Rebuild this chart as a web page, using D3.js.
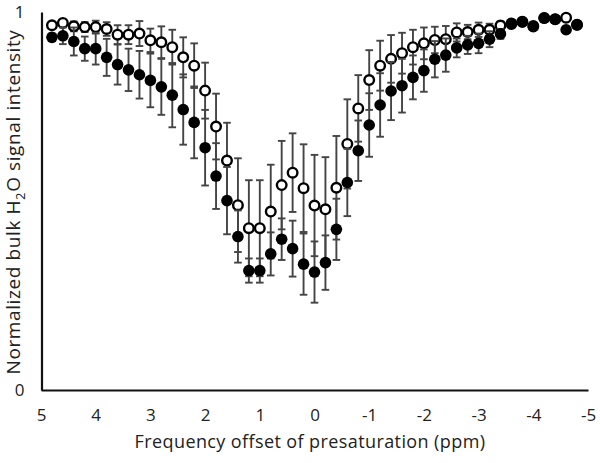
<!DOCTYPE html>
<html>
<head>
<meta charset="utf-8">
<script src="https://cdn.jsdelivr.net/npm/d3@7"></script>
<style>
  html, body { margin: 0; padding: 0; background: #fff; }
  svg text { font-family: "Open Sans", sans-serif; fill: #222; }
</style>
</head>
<body>
<svg id="chart"></svg>
<script>
// presaturation offsets (ppm)
const offsets = [4.8, 4.6, 4.4, 4.2, 4.0, 3.8, 3.6, 3.4, 3.2, 3.0,
  2.8, 2.6, 2.4, 2.2, 2.0, 1.8, 1.6, 1.4, 1.2, 1.0,
  0.8, 0.6, 0.4, 0.2, 0.0, -0.2, -0.4, -0.6, -0.8, -1.0,
  -1.2, -1.4, -1.6, -1.8, -2.0, -2.2, -2.4, -2.6, -2.8, -3.0,
  -3.2, -3.4, -3.6, -3.8, -4.0, -4.2, -4.4, -4.6, -4.8];

// open circles
const openValues = [0.965, 0.971, 0.962, 0.960, 0.960, 0.955, 0.940, 0.940, 0.943, 0.925,
  0.920, 0.907, 0.880, 0.858, 0.792, 0.697, 0.607, 0.489, 0.428, 0.428,
  0.472, 0.542, 0.575, 0.534, 0.488, 0.478, 0.535, 0.651, 0.745, 0.820,
  0.858, 0.876, 0.891, 0.907, 0.917, 0.926, 0.928, 0.946, 0.947, 0.953,
  0.953, 0.964, 0.968, 0.974, 0.963, 0.984, 0.981, 0.985, 0.966];
const openErrors = [0.008, 0.008, 0.013, 0.013, 0.017, 0.018, 0.025, 0.025, 0.033, 0.031,
  0.042, 0.046, 0.053, 0.059, 0.074, 0.087, 0.100, 0.124, 0.127, 0.127,
  0.124, 0.117, 0.104, 0.116, 0.134, 0.138, 0.137, 0.118, 0.088, 0.079,
  0.066, 0.063, 0.054, 0.046, 0.042, 0.035, 0.035, 0.024, 0.019, 0.019,
  0.016, 0.011, 0.008, 0.008, 0.008, 0.008, 0.008, 0.008, 0.008];

// filled circles
const filledValues = [0.933, 0.937, 0.922, 0.903, 0.903, 0.880, 0.861, 0.847, 0.834, 0.819,
  0.802, 0.780, 0.742, 0.708, 0.641, 0.566, 0.501, 0.406, 0.316, 0.316,
  0.360, 0.399, 0.374, 0.333, 0.312, 0.337, 0.425, 0.549, 0.633, 0.701,
  0.754, 0.791, 0.805, 0.827, 0.845, 0.875, 0.886, 0.905, 0.913, 0.917,
  0.928, 0.942, 0.970, 0.974, 0.961, 0.984, 0.981, 0.953, 0.966];
const filledErrors = [0.010, 0.022, 0.037, 0.032, 0.042, 0.049, 0.053, 0.056, 0.063, 0.071,
  0.074, 0.085, 0.093, 0.095, 0.100, 0.087, 0.089, 0.069, 0.032, 0.032,
  0.057, 0.055, 0.074, 0.081, 0.081, 0.072, 0.081, 0.089, 0.080, 0.084,
  0.084, 0.077, 0.071, 0.058, 0.056, 0.048, 0.044, 0.025, 0.024, 0.026,
  0.021, 0.013, 0.008, 0.008, 0.008, 0.008, 0.008, 0.008, 0.008];

const xTicks = [5, 4, 3, 2, 1, 0, -1, -2, -3, -4, -5];
const yTicks = [0, 1];

const width = 600, height = 463;

const svg = d3.select('#chart')
  .attr('width', width)
  .attr('height', height);

const x = d3.scaleLinear().domain([5, -5]).range([41, 588]);
const y = d3.scaleLinear().domain([0, 1]).range([390, 12]);

// axes (plain hyphen for negatives, like the original)
const xAxis = svg.append('g')
  .attr('transform', `translate(0,${y(0)})`)
  .call(d3.axisBottom(x).tickValues(xTicks).tickSize(0).tickPadding(19).tickFormat(d => String(d)));
xAxis.select('.domain').attr('stroke', '#111').attr('stroke-width', 2.2);
xAxis.selectAll('text').style('font-size', '17px').attr('fill', '#222')
  .attr('font-family', '"Open Sans", sans-serif');

const yAxis = svg.append('g')
  .attr('transform', `translate(${x(5) + 0.5},0)`)
  .call(d3.axisLeft(y).tickValues(yTicks).tickSize(0).tickPadding(17).tickFormat(d => String(d)));
yAxis.select('.domain').attr('stroke', '#111').attr('stroke-width', 2.2);
yAxis.selectAll('text').style('font-size', '17px').attr('fill', '#222')
  .attr('font-family', '"Open Sans", sans-serif');

// axis titles
svg.append('text')
  .attr('x', 310)
  .attr('y', 448)
  .attr('text-anchor', 'middle')
  .style('font-size', '18px')
  .style('letter-spacing', '0.4px')
  .text('Frequency offset of presaturation (ppm)');

const yTitle = svg.append('text')
  .attr('transform', 'translate(20,202) rotate(-90)')
  .attr('text-anchor', 'middle')
  .style('font-size', '19px')
  .style('letter-spacing', '0.6px');
yTitle.append('tspan').text('Normalized bulk H');
yTitle.append('tspan').attr('dy', 5).style('font-size', '13px').text('2');
yTitle.append('tspan').attr('dy', -5).text('O signal intensity');

// error bars + markers
function drawSeries(values, errors, filled) {
  const rows = offsets.map((o, i) => ({ o, v: values[i], e: errors[i] }));
  const g = svg.append('g');

  const bars = g.selectAll('.err')
    .data(rows)
    .enter()
    .append('g')
    .attr('stroke', '#444')
    .attr('stroke-width', 1.9);

  bars.append('line')
    .attr('x1', d => x(d.o)).attr('x2', d => x(d.o))
    .attr('y1', d => y(d.v + d.e)).attr('y2', d => y(d.v - d.e));
  bars.append('line')
    .attr('x1', d => x(d.o) - 3.8).attr('x2', d => x(d.o) + 3.8)
    .attr('y1', d => y(d.v + d.e)).attr('y2', d => y(d.v + d.e));
  bars.append('line')
    .attr('x1', d => x(d.o) - 3.8).attr('x2', d => x(d.o) + 3.8)
    .attr('y1', d => y(d.v - d.e)).attr('y2', d => y(d.v - d.e));

  g.selectAll('circle')
    .data(rows)
    .enter()
    .append('circle')
    .attr('cx', d => x(d.o))
    .attr('cy', d => y(d.v))
    .attr('r', filled ? 5.8 : 4.8)
    .attr('fill', filled ? '#000' : '#fff')
    .attr('stroke', '#000')
    .attr('stroke-width', filled ? 0 : 2.4);
}

drawSeries(openValues, openErrors, false);
drawSeries(filledValues, filledErrors, true);
</script>
</body>
</html>
